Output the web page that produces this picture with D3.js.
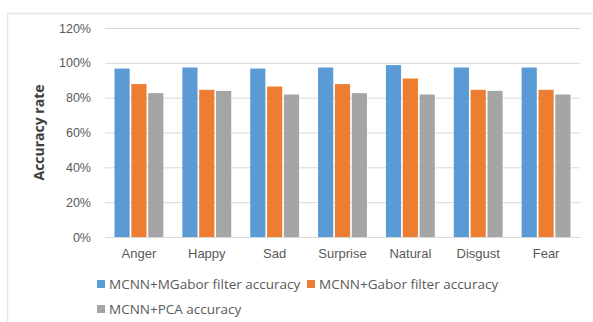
<!DOCTYPE html>
<html>
<head>
<meta charset="utf-8">
<script src="https://cdn.jsdelivr.net/npm/d3@7"></script>
<style>
  html, body { margin: 0; padding: 0; background: #fff; }
  svg { display: block; font-family: "Open Sans", "Noto Sans", sans-serif; }
</style>
</head>
<body>
<svg id="chart" width="593" height="322"></svg>
<script>
// Emotion categories and recognition accuracy (%) for each method
const categories = ["Anger", "Happy", "Sad", "Surprise", "Natural", "Disgust", "Fear"];
const seriesNames = ["MCNN+MGabor filter accuracy", "MCNN+Gabor filter accuracy", "MCNN+PCA accuracy"];
const mgaborValues = [96.7, 97.3, 96.7, 97.3, 98.7, 97.3, 97.3];
const gaborValues  = [87.8, 84.5, 86.4, 87.8, 91.0, 84.5, 84.5];
const pcaValues    = [82.6, 83.9, 81.8, 82.6, 81.8, 83.9, 81.8];
const yTicks = [0, 20, 40, 60, 80, 100, 120];
const colors = ["#5B9BD5", "#ED7D31", "#A5A5A5"];

const series = [mgaborValues, gaborValues, pcaValues];

const svg = d3.select("#chart");
const margin = { left: 105, right: 13, top: 28, bottom: 85 };
const W = 593, H = 322;

// chart frame
svg.append("rect")
  .attr("x", 7.5).attr("y", 13.5)
  .attr("width", W).attr("height", H)
  .attr("fill", "none").attr("stroke", "#e6e6e6").attr("stroke-width", 1.5);

const x0 = d3.scaleBand()
  .domain(categories)
  .range([margin.left, W - margin.right])
  .paddingInner(0.23).paddingOuter(0.115);

const x1 = d3.scaleBand()
  .domain(d3.range(series.length))
  .range([0, x0.bandwidth()])
  .padding(0.1);

const y = d3.scaleLinear()
  .domain([0, 120])
  .range([H - margin.bottom, margin.top]);

// gridlines and tick labels
const yAxis = d3.axisLeft(y)
  .tickValues(yTicks)
  .tickSize(-(W - margin.right - margin.left))
  .tickPadding(14)
  .tickFormat(d => d + "%");

const gy = svg.append("g")
  .attr("transform", `translate(${margin.left},0)`)
  .call(yAxis);
gy.select(".domain").remove();
gy.selectAll(".tick line").attr("stroke", "#d9d9d9").attr("stroke-width", 1);
gy.selectAll(".tick text")
  .attr("fill", "#595959")
  .style("font-size", "12.5px");

// bars
const groups = svg.append("g").selectAll("g")
  .data(categories)
  .join("g")
  .attr("transform", c => `translate(${x0(c)},0)`);

groups.selectAll("rect")
  .data((c, i) => series.map((s, k) => ({ k, v: s[i] })))
  .join("rect")
  .attr("x", d => x1(d.k))
  .attr("width", x1.bandwidth())
  .attr("y", d => y(d.v))
  .attr("height", d => y(0) - y(d.v))
  .attr("fill", d => colors[d.k]);

// category axis
const xAxis = d3.axisBottom(x0).tickSize(0).tickPadding(12);
const gx = svg.append("g")
  .attr("transform", `translate(0,${y(0)})`)
  .call(xAxis);
gx.select(".domain").attr("stroke", "#d9d9d9");
gx.selectAll(".tick text")
  .attr("fill", "#595959")
  .style("font-size", "13px");

// axis title
svg.append("text")
  .attr("transform", `translate(44,${(y(0) + y(120)) / 2}) rotate(-90)`)
  .attr("text-anchor", "middle")
  .attr("fill", "#404040")
  .style("font-size", "14px")
  .style("font-weight", "bold")
  .text("Accuracy rate");

// legend
const legendPos = [[97, 284], [307, 284], [97, 309]];
const legend = svg.append("g").selectAll("g")
  .data(seriesNames)
  .join("g")
  .attr("transform", (d, i) => `translate(${legendPos[i][0]},${legendPos[i][1]})`);
legend.append("rect")
  .attr("x", 0).attr("y", -4)
  .attr("width", 8).attr("height", 8)
  .attr("fill", (d, i) => colors[i]);
legend.append("text")
  .attr("x", 12).attr("dy", "0.35em")
  .attr("fill", "#595959")
  .style("font-size", "13.5px")
  .text(d => d);
</script>
</body>
</html>
